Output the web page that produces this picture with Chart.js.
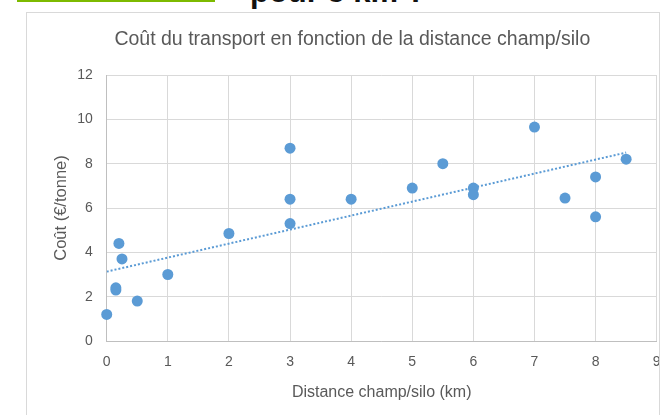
<!DOCTYPE html>
<html>
<head>
<meta charset="utf-8">
<script src="https://cdn.jsdelivr.net/npm/chart.js@4"></script>
<style>
    html, body { margin: 0; padding: 0; background: #fff; overflow: hidden; width: 661px; height: 415px; }
    .green-bar { position: absolute; left: 17px; top: 0; width: 198px; height: 2px; background: #7dba00; }
    .heading { position: absolute; left: 250px; top: -23px; font: bold 31px "Liberation Sans", Arial, sans-serif; line-height: 30px; color: #111; white-space: nowrap; }
    .frame { position: absolute; left: 26px; top: 12px; width: 634px; height: 420px; box-sizing: border-box; border: 1px solid #d9d9d9; overflow: hidden; }
    .frame canvas { position: absolute; left: -27px; top: -13px; }
</style>
</head>
<body>
<div class="green-bar"></div>
<div class="heading">pour 5 km ?</div>
<div class="frame">
    <canvas id="costChart" width="700" height="430" style="width:700px;height:430px"></canvas>
</div>
<script>
// Distance (km) and cost (EUR/tonne)
const distances = [0, 0.15, 0.15, 0.2, 0.25, 0.5, 1, 2, 3, 3, 3, 4, 5, 5.5, 6, 6, 7, 7.5, 8, 8, 8.5];
const costs = [1.2, 2.3, 2.4, 4.4, 3.7, 1.8, 3.0, 4.85, 8.7, 6.4, 5.3, 6.4, 6.9, 8.0, 6.9, 6.6, 9.65, 6.45, 7.4, 5.6, 8.2];

// Linear trend line end points
const trendX = [0, 8.5];
const trendY = [3.13, 8.5];

const xTicks = [0, 1, 2, 3, 4, 5, 6, 7, 8, 9];
const yTicks = [0, 2, 4, 6, 8, 10, 12];

const textColor = '#595959';
const gridColor = '#d9d9d9';
const dotColor = '#5b9bd5';
const fontFamily = '"Liberation Sans", Arial, sans-serif';

const points = distances.map((d, i) => ({ x: d, y: costs[i] }));
const trend = trendX.map((d, i) => ({ x: d, y: trendY[i] }));

const ctx = document.getElementById('costChart').getContext('2d');
new Chart(ctx, {
    type: 'scatter',
    data: {
        datasets: [{
            label: 'Coût',
            data: points,
            backgroundColor: dotColor,
            borderColor: dotColor,
            borderWidth: 0,
            pointRadius: 5.5,
            clip: false,
            order: 1
        }, {
            label: 'Tendance',
            data: trend,
            showLine: true,
            borderColor: dotColor,
            borderWidth: 2,
            borderDash: [2, 2],
            pointRadius: 0,
            fill: false,
            order: 2
        }]
    },
    options: {
        responsive: false,
        animation: false,
        layout: { padding: { left: 48, right: 43.3, top: 0, bottom: 23.4 } },
        plugins: {
            legend: { display: false },
            tooltip: { enabled: false },
            title: {
                display: true,
                text: 'Coût du transport en fonction de la distance champ/silo',
                color: textColor,
                font: { family: fontFamily, size: 19.5, weight: 'normal' },
                padding: { top: 28.3, bottom: 23.3 }
            }
        },
        scales: {
            x: {
                type: 'linear',
                min: 0,
                max: 9,
                afterBuildTicks: scale => { scale.ticks = xTicks.map(v => ({ value: v })); },
                afterFit: scale => { scale.height = 65.6; },
                grid: { color: gridColor, drawTicks: false },
                border: { color: '#bfbfbf' },
                ticks: { color: textColor, padding: 13, font: { family: fontFamily, size: 14 } },
                title: {
                    display: true,
                    text: 'Distance champ/silo (km)',
                    color: textColor,
                    font: { family: fontFamily, size: 16 },
                    padding: { top: 4, bottom: 4 }
                }
            },
            y: {
                type: 'linear',
                min: 0,
                max: 12,
                afterBuildTicks: scale => { scale.ticks = yTicks.map(v => ({ value: v })); },
                afterFit: scale => { scale.width = 58.7; },
                grid: { color: gridColor, drawTicks: false },
                border: { color: '#bfbfbf' },
                ticks: { color: textColor, padding: 14, font: { family: fontFamily, size: 14 } },
                title: {
                    display: true,
                    text: 'Coût (€/tonne)',
                    color: textColor,
                    font: { family: fontFamily, size: 16.5 },
                    padding: { top: 4, bottom: 4 }
                }
            }
        }
    }
});
</script>
</body>
</html>
